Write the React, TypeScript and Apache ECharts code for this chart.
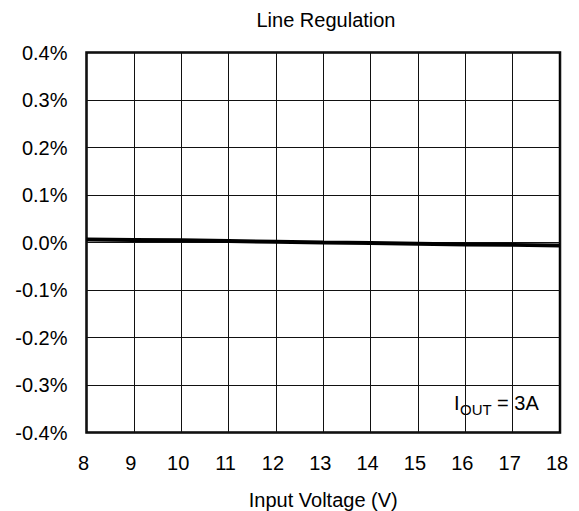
import React, { useEffect, useRef } from "react";
import * as echarts from "echarts";

const voltages = [8, 9, 10, 11, 12, 13, 14, 15, 16, 17, 18];
const regulation = [0.0065, 0.0055, 0.0045, 0.003, 0.0015, 0.0, -0.001, -0.0025, -0.004, -0.005, -0.0065];
const titleText = "Line Regulation";
const xName = "Input Voltage (V)";

const FONT = "Liberation Sans, Arial, sans-serif";

export default function App() {
  const ref = useRef<HTMLDivElement>(null);
  useEffect(() => {
    if (!ref.current) return;
    document.body.style.margin = "0";
    document.body.style.overflow = "hidden";
    const chart = echarts.init(ref.current, undefined, { renderer: "svg" });
    chart.setOption({
      animation: false,
      backgroundColor: "#fff",
      title: {
        text: titleText,
        left: 321,
        top: 5,
        textAlign: "center",
        textStyle: { fontFamily: FONT, fontSize: 20, fontWeight: "normal", color: "#000" },
      },
      grid: {
        left: 86.5,
        right: 19,
        top: 52.5,
        bottom: 78.5,
        show: true,
        borderColor: "#000",
        borderWidth: 2.5,
        containLabel: false,
        outerBoundsMode: "none",
      },
      xAxis: {
        type: "value",
        min: 8,
        max: 18,
        interval: 1,
        name: xName,
        nameLocation: "middle",
        nameGap: 57,
        nameTextStyle: { fontFamily: FONT, fontSize: 20, color: "#000" },
        axisLine: { show: false },
        axisTick: { show: false },
        axisLabel: { fontFamily: FONT, fontSize: 20, color: "#000", margin: 20, padding: [0, 6, 0, 0] },
        splitLine: { show: true, lineStyle: { color: "#111", width: 1 } },
      },
      yAxis: {
        type: "value",
        min: -0.4,
        max: 0.4,
        interval: 0.1,
        axisLine: { show: false },
        axisTick: { show: false },
        axisLabel: {
          fontFamily: FONT,
          fontSize: 20,
          color: "#000",
          margin: 19,
          formatter: (v: number) => (Math.abs(v) < 1e-9 ? 0 : v).toFixed(1) + "%",
        },
        splitLine: { show: true, lineStyle: { color: "#111", width: 1 } },
      },
      series: [
        {
          type: "line",
          data: voltages.map((v, i) => [v, regulation[i]]),
          showSymbol: false,
          lineStyle: { color: "#000", width: 4 },
          z: 4,
        },
      ],
      graphic: [
        {
          type: "group",
          x: 445,
          y: 390,
          children: [
            { type: "rect", shape: { x: 0, y: 0, width: 113, height: 33 }, style: { fill: "#fff" } },
            {
              type: "text",
              x: 9,
              y: 13.3,
              style: { text: "I", fontFamily: FONT, fontSize: 20, fill: "#000", verticalAlign: "middle" },
            },
            {
              type: "text",
              x: 15,
              y: 19.5,
              style: { text: "OUT", fontFamily: FONT, fontSize: 15, fill: "#000", verticalAlign: "middle" },
            },
            {
              type: "text",
              x: 46.5,
              y: 13.3,
              style: { text: " = 3A", fontFamily: FONT, fontSize: 20, fill: "#000", verticalAlign: "middle" },
            },
          ],
        },
      ],
    });
    return () => chart.dispose();
  }, []);
  return <div ref={ref} style={{ width: 579, height: 511 }} />;
}
